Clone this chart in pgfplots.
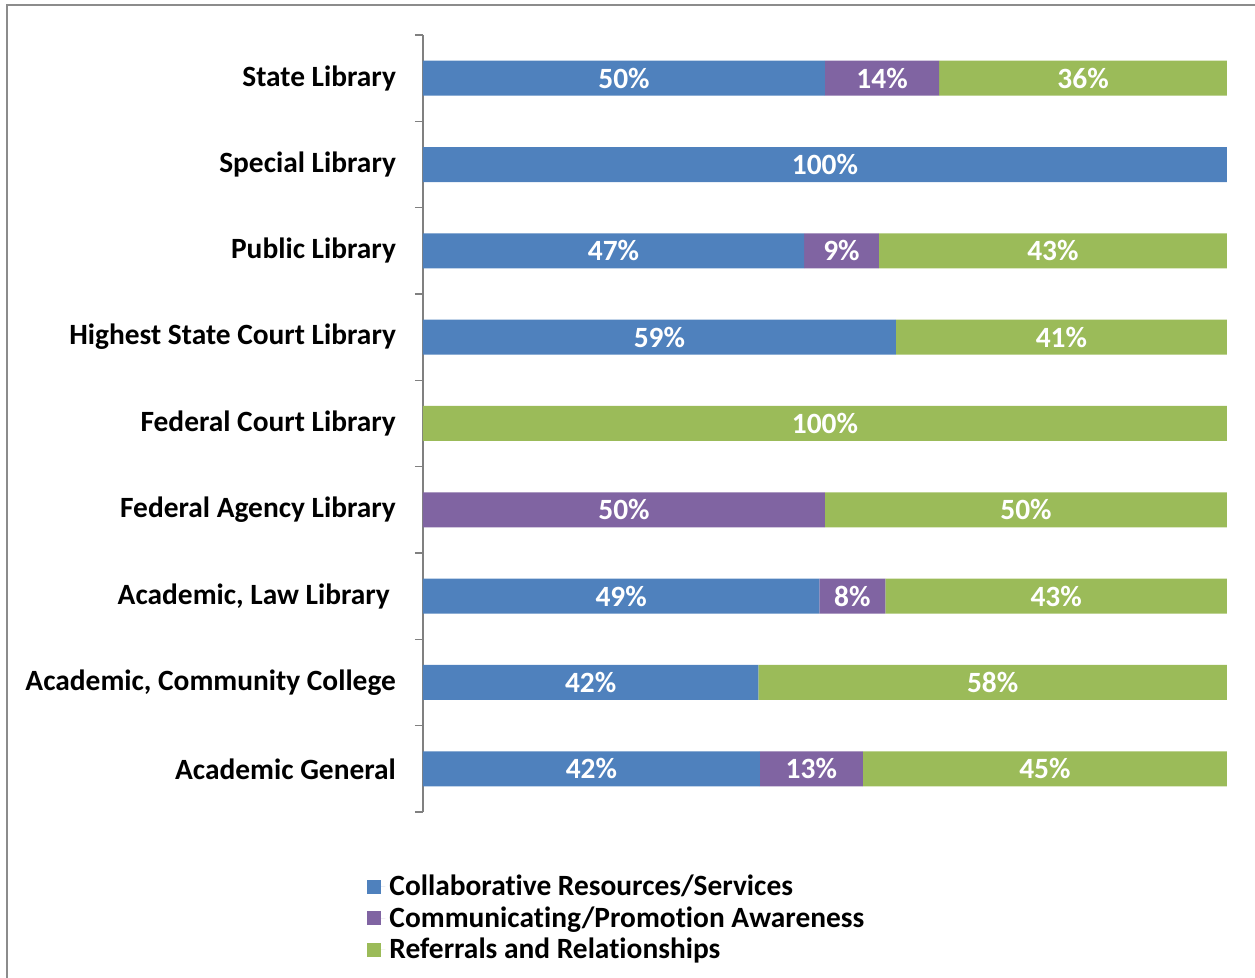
\documentclass[border=0pt]{standalone}
\usepackage{fontspec}
\setmainfont{Carlito}[Ligatures=NoCommon]
\usepackage{pgfplots}
\pgfplotsset{compat=1.18}
\definecolor{cblue}{HTML}{4F81BD}
\definecolor{cpurple}{HTML}{8064A2}
\definecolor{cgreen}{HTML}{9BBB59}
\definecolor{framegray}{HTML}{8C8C8C}
\newcommand{\lblfont}{\bfseries\fontsize{14.7}{17}\selectfont}
\begin{document}
\begin{tikzpicture}
\useasboundingbox (0,0) rectangle (627.5pt,489pt);
\draw[framegray, line width=1.1pt] (3.5pt,-2pt) -- (3.5pt,486.5pt) -- (640pt,486.5pt);
\begin{axis}[
  at={(211.5pt,83pt)}, anchor=south west,
  scale only axis, width=402pt, height=388.5pt,
  xbar stacked, bar width=17.5pt,
  xmin=0, xmax=100, ymin=-0.5, ymax=8.5,
  axis x line=none, axis y line*=left,
  y axis line style={draw=gray, line width=0.6pt},
  xtick=\empty,
  ytick={0,...,8},
  yticklabels={Academic General, {Academic, Community College}, {Academic, Law Library\rule{3pt}{0pt}}, Federal Agency Library, Federal Court Library, Highest State Court Library, Public Library, Special Library, State Library},
  yticklabel style={font=\lblfont, xshift=-10pt, text=black},
  minor ytick={-0.5,0.5,...,8.5},
  major tick length=0pt, minor tick length=4pt,
  tick align=outside, ytick pos=left,
  minor tick style={draw=gray, line width=0.6pt},
  clip=false,
  point meta=explicit symbolic,
  nodes near coords={\pgfplotspointmeta},
  every node near coord/.append style={font=\lblfont, text=white, anchor=center},
  legend style={at={(-0.077,-0.07)}, anchor=north west, draw=none, fill=none, font=\lblfont, row sep=0pt},
  legend cell align=left,
  legend image code/.code={\fill[#1] (0pt,-3.5pt) rectangle (7pt,3.5pt); \path (0pt,0pt) -- (9pt,0pt);},
]
\addplot[fill=cblue, draw=none] coordinates {
  (41.9,0) [42\%] (41.7,1) [42\%] (49.3,2) [49\%] (0,3) [{}] (0,4) [{}]
  (58.8,5) [59\%] (47.4,6) [47\%] (100,7) [100\%] (50,8) [50\%]};
\addplot[fill=cpurple, draw=none] coordinates {
  (12.8,0) [13\%] (0,1) [{}] (8.2,2) [8\%] (50,3) [50\%] (0,4) [{}]
  (0,5) [{}] (9.3,6) [9\%] (0,7) [{}] (14.2,8) [14\%]};
\addplot[fill=cgreen, draw=none] coordinates {
  (45.3,0) [45\%] (58.3,1) [58\%] (42.5,2) [43\%] (50,3) [50\%] (100,4) [100\%]
  (41.2,5) [41\%] (43.3,6) [43\%] (0,7) [{}] (35.8,8) [36\%]};
\legend{Collaborative Resources/Services, Communicating/Promotion Awareness, Referrals and Relationships}
\end{axis}
\end{tikzpicture}
\end{document}
